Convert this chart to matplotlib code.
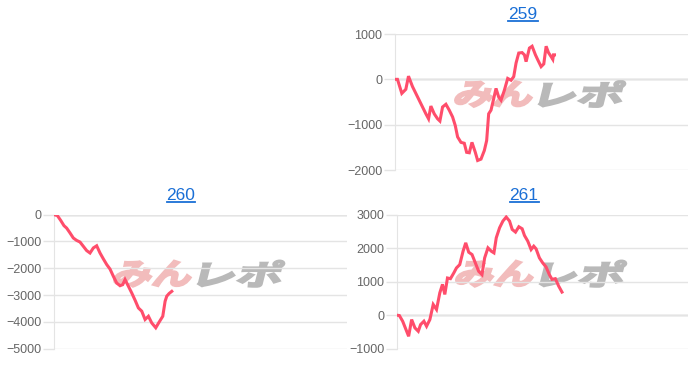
import matplotlib
matplotlib.use("Agg")
import matplotlib.pyplot as plt
import matplotlib.transforms as mtransforms
from matplotlib.textpath import TextPath
from matplotlib.patches import PathPatch
from matplotlib.font_manager import FontProperties
from matplotlib.lines import Line2D

plt.rcParams['font.family'] = ['Liberation Sans', 'DejaVu Sans']

# 台番号ごとの差枚推移 (横軸はゲーム数)
machines = ["259", "260", "261"]

games_259 = [0, 80, 210, 330, 410, 530, 630, 730, 830, 930, 1010, 1080, 1180, 1280, 1350,
             1430, 1530, 1630, 1730, 1810, 1880, 1980, 2080, 2150, 2230, 2310, 2410, 2480,
             2580, 2680, 2750, 2810, 2880, 2950, 3030, 3110, 3180, 3280, 3380, 3480, 3560,
             3630, 3710, 3810, 3880, 3930, 4030, 4110, 4210, 4280, 4380, 4460, 4530, 4600,
             4680, 4730, 4750, 4780]
diff_259 = [0, 0, -310, -220, 70, -160, -310, -460, -610, -760, -870, -590, -760, -870, -920,
            -610, -550, -680, -830, -1020, -1270, -1390, -1410, -1610, -1620, -1390, -1610,
            -1790, -1760, -1570, -1350, -760, -680, -460, -200, -390, -460, -240, 20, -20, 60,
            360, 580, 590, 540, 390, 690, 730, 540, 430, 280, 340, 730, 590, 500, 440, 540, 540]

games_260 = [0, 100, 200, 300, 380, 480, 580, 680, 780, 880, 980, 1080, 1180, 1280, 1380,
             1480, 1580, 1680, 1780, 1880, 1980, 2060, 2130, 2230, 2330, 2430, 2530, 2630,
             2730, 2830, 2930, 3050, 3150, 3260, 3330, 3380, 3450, 3530]
diff_260 = [0, -30, -210, -410, -500, -680, -870, -960, -1020, -1180, -1340, -1430, -1240,
            -1160, -1430, -1650, -1860, -2030, -2300, -2550, -2650, -2610, -2420, -2670, -2920,
            -3190, -3480, -3600, -3910, -3790, -4040, -4220, -4010, -3790, -3230, -3040, -2940,
            -2860]

games_261 = [0, 80, 180, 280, 360, 450, 550, 650, 720, 820, 900, 1000, 1100, 1200, 1300,
             1380, 1450, 1530, 1620, 1720, 1800, 1900, 2000, 2080, 2170, 2270, 2370, 2470,
             2570, 2650, 2750, 2850, 2930, 3000, 3100, 3200, 3300, 3400, 3480, 3580, 3680,
             3780, 3850, 3950, 4050, 4130, 4200, 4300, 4400, 4500, 4600, 4680, 4780, 4880, 4980]
diff_261 = [0, -10, -180, -430, -630, -130, -380, -480, -280, -180, -330, -130, 320, 170, 670,
            920, 620, 1110, 1090, 1260, 1410, 1510, 1910, 2160, 1880, 1810, 1560, 1310, 1210,
            1710, 2010, 1910, 1860, 2310, 2610, 2810, 2930, 2810, 2560, 2480, 2640, 2580, 2380,
            2210, 1960, 2060, 1980, 1710, 1560, 1440, 1210, 1070, 1090, 870, 690]

yticks_259 = [-2000, -1000, 0, 1000]
yticks_260 = [-5000, -4000, -3000, -2000, -1000, 0]
yticks_261 = [-1000, 0, 1000, 2000, 3000]
x_max = 8780

LINE_COLOR = "#ff4d6b"
GRID_COLOR = "#e4e4e4"
ZERO_COLOR = "#bcbcbc"
LINK_COLOR = "#1a6fd6"

logo_font = FontProperties(family='Noto Sans CJK JP', weight='bold')


def add_logo(ax):
    # みんレポ のウォーターマーク (斜体っぽく傾ける)
    parts = [("みん", "#f2bcbc", -84, 76), ("レポ", "#b9b9b9", 1, 81)]
    for text, color, dx, width in parts:
        path = TextPath((0, 0), text, size=10, prop=logo_font)
        b = path.get_extents()
        tr = (mtransforms.Affine2D()
              .translate(-b.x0, -b.y0)
              .scale(width / b.width, 26 / b.height)
              .skew_deg(14, 0)
              .translate(dx - 4, -13)
              + mtransforms.ScaledTranslation(0.5, 0.56, ax.transAxes))
        patch = PathPatch(path, facecolor=color, edgecolor=color, lw=1.6,
                          transform=tr, zorder=1.5)
        ax.add_artist(patch)


def draw_panel(ax, games, diff, yticks):
    ax.plot(games, diff, color=LINE_COLOR, lw=2.2, zorder=3, solid_joinstyle='miter')
    ax.set_xlim(0, x_max)
    ax.set_ylim(yticks[0], yticks[-1])
    ax.set_yticks(yticks)
    ax.set_xticks([])
    ax.grid(axis='y', color=GRID_COLOR, lw=1)
    ax.axhline(0, color=ZERO_COLOR, lw=1, zorder=1)
    for s in ['top', 'right', 'bottom']:
        ax.spines[s].set_visible(False)
    ax.spines['left'].set_color(GRID_COLOR)
    ax.tick_params(axis='y', length=8, width=1, color=GRID_COLOR,
                   labelcolor='#666666', labelsize=9, pad=1)
    for t in ax.yaxis.get_major_ticks():
        if t.get_loc() == 0:
            t.tick1line.set_color(ZERO_COLOR)
    add_logo(ax)


fig = plt.figure(figsize=(7, 3.66), dpi=100)

ax259 = fig.add_axes([0.564, 0.5355, 0.419, 0.3716])
ax260 = fig.add_axes([0.0771, 0.0473, 0.4186, 0.3661])
ax261 = fig.add_axes([0.5667, 0.0473, 0.4163, 0.3661])

draw_panel(ax259, games_259, diff_259, yticks_259)
draw_panel(ax260, games_260, diff_260, yticks_260)
draw_panel(ax261, games_261, diff_261, yticks_261)

# タイトル (リンク風の下線付き)
title_pos = [(523 / 700, 0.960), (181 / 700, 0.465), (524 / 700, 0.465)]
titles = []
for name, (tx, ty) in zip(machines, title_pos):
    titles.append(fig.text(tx, ty, name, ha='center', va='center',
                           color=LINK_COLOR, fontsize=12.5))

fig.canvas.draw()
inv = fig.transFigure.inverted()
for t in titles:
    bb = t.get_window_extent()
    (x0, y0), (x1, _) = inv.transform([(bb.x0, bb.y0 + 1.5), (bb.x1, bb.y0)])
    fig.add_artist(Line2D([x0, x1], [y0, y0], color=LINK_COLOR, lw=1.3,
                          transform=fig.transFigure))

fig.savefig("out.png", dpi=100)
